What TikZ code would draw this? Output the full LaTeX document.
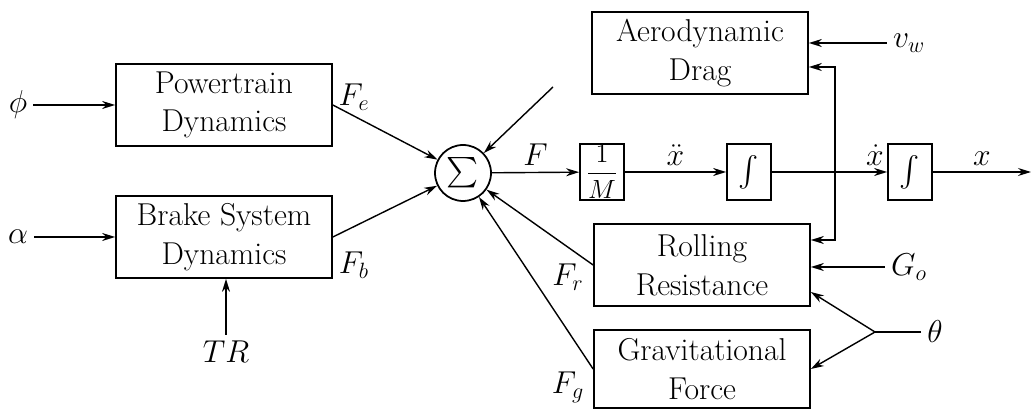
\RequirePackage{fix-cm}
\documentclass[tikz,border=0pt]{standalone}
\usepackage{exscale}
\usetikzlibrary{arrows.meta, positioning}

\begin{document}
\begin{tikzpicture}[
    x=0.02cm, y=-0.02cm,
    font=\fontsize{18}{22}\selectfont,
    block/.style={rectangle, draw=black, line width=1pt, align=center, minimum width=4.32cm, minimum height=1.64cm, inner sep=0pt},
    smallbox/.style={rectangle, draw=black, line width=1pt, minimum width=0.88cm, minimum height=1.12cm, inner sep=0pt},
    sumnode/.style={circle, draw=black, line width=1pt, minimum size=1.12cm, inner sep=0pt},
    arrow/.style={-{Stealth[length=2.6mm, width=1.6mm]}, line width=0.8pt},
    wire/.style={line width=0.8pt}
]
\useasboundingbox (0,0) rectangle (1032,411);

% Input dynamics
\node[block] (power) at (224,105) {Powertrain\\Dynamics};
\node[block] (brake) at (224,237) {Brake System\\Dynamics};
\node (phi) at (18,105) {$\phi$};
\node (alpha) at (18,237) {$\alpha$};
\node (tr) at (226,352) {$TR$};
\node (fe) at (354,97) {$F_e$};
\node (fb) at (354,265) {$F_b$};

% Summing junction and integrator chain
\node[sumnode] (sum) at (463,173) {$\sum$};
\node[smallbox] (invm) at (602,172) {\fontsize{15}{18}\selectfont$\displaystyle\frac{1}{M}$};
\node[smallbox] (int1) at (749,172) {$\int$};
\node[smallbox] (int2) at (910,172) {$\int$};
\coordinate (out) at (1031,172);
\coordinate (tap) at (835,172);
\node (xd) at (875,155) {$\dot{x}$};

% Resistance blocks
\node[block] (drag) at (700,53) {Aerodynamic\\Drag};
\node[block] (roll) at (702,265) {Rolling\\Resistance};
\node[block, minimum height=1.56cm] (grav) at (702,369) {Gravitational\\Force};
\coordinate (dragout) at (553,87);
\node (vw) at (909,43) {$v_w$};
\node (go) at (909,267) {$G_o$};
\node (theta) at (935,332) {$\theta$};
\coordinate (split) at (875,332);
\node (fr) at (568,277) {$F_r$};
\node (fg) at (568,387) {$F_g$};

% Connections
\draw[arrow] (phi) -- (power.west);
\draw[arrow] (alpha) -- (brake.west);
\draw[arrow] (tr.north) -- (tr.north |- brake.south);
\draw[arrow] (power.east) -- (sum);
\draw[arrow] (brake.east) -- (sum);
\draw[arrow] (dragout) -- (sum);
\draw[arrow] (roll.west) -- (sum);
\draw[arrow] (grav.west) -- (sum);
\draw[arrow] (sum) -- node[above] {$F$} (invm);
\draw[arrow] (invm) -- node[above] {$\ddot{x}$} (int1);
\draw[arrow] (int1) -- (int2);
\draw[arrow] (int2) -- node[above] {$x$} (out);

% Feedback of speed
\draw[arrow] (tap) |- ([yshift=-0.28cm]drag.east);
\draw[arrow] (tap) |- ([yshift=0.5cm]roll.east);
\draw[arrow] (vw.west) -- (vw.west -| drag.east);
\draw[arrow] (go.west) -- (go.west -| roll.east);
\draw[wire] (theta.west) -- (split);
\draw[arrow] (split) -- ([yshift=-0.54cm]roll.east);
\draw[arrow] (split) -- (grav.east);

\end{tikzpicture}
\end{document}
